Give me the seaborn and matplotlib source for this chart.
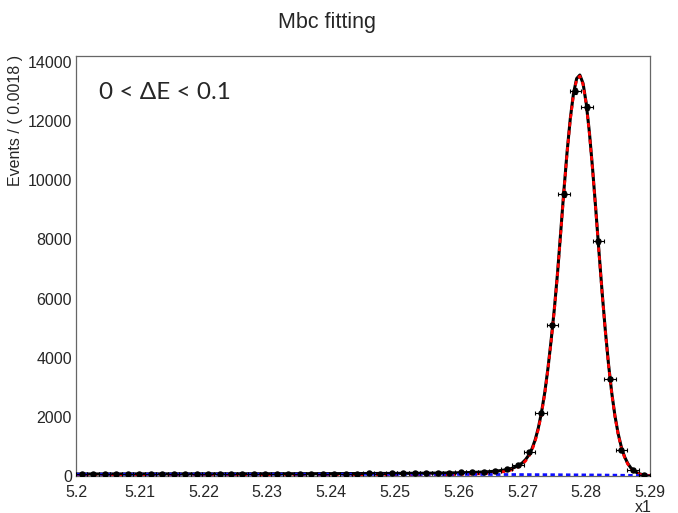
import matplotlib
matplotlib.use("Agg")
import matplotlib.pyplot as plt
from matplotlib.ticker import MultipleLocator
import numpy as np
import seaborn as sns

sns.set_style("white")
plt.rcParams["font.family"] = ["Liberation Sans", "DejaVu Sans"]

# Binned data: 50 bins of width 0.0018 between 5.20 and 5.29
bin_lo = 5.20
bin_width = 0.0018
events = [72, 64, 70, 61, 75, 68, 66, 78, 70, 73,
          69, 74, 67, 79, 72, 70, 77, 74, 81, 76,
          79, 84, 77, 83, 80, 86, 84, 90, 88, 93,
          98, 104, 112, 121, 133, 146, 168, 228, 373, 813,
          2125, 5110, 9525, 13017, 12475, 7932, 3288, 893, 193, 18]

# Fitted curves
curve_x = [5.2000, 5.2100, 5.2200, 5.2300, 5.2400, 5.2450, 5.2500, 5.2550, 5.2575,
           5.2600, 5.2605, 5.2610, 5.2615, 5.2620, 5.2625, 5.2630, 5.2635, 5.2640,
           5.2645, 5.2650, 5.2655, 5.2660, 5.2665, 5.2670, 5.2675, 5.2680, 5.2685,
           5.2690, 5.2695, 5.2700, 5.2705, 5.2710, 5.2715, 5.2720, 5.2725, 5.2730,
           5.2735, 5.2740, 5.2745, 5.2750, 5.2755, 5.2760, 5.2765, 5.2770, 5.2775,
           5.2780, 5.2785, 5.2790, 5.2795, 5.2800, 5.2805, 5.2810, 5.2815, 5.2820,
           5.2825, 5.2830, 5.2835, 5.2840, 5.2845, 5.2850, 5.2855, 5.2860, 5.2865,
           5.2870, 5.2875, 5.2880, 5.2885, 5.2890, 5.2895, 5.2900]
total_fit = [68, 71, 73, 76, 80, 84, 87, 94, 100,
             108, 110, 113, 116, 119, 123, 127, 132, 137,
             143, 150, 158, 168, 181, 195, 214, 238, 268,
             314, 370, 448, 558, 707, 922, 1226, 1636, 2165,
             2824, 3644, 4593, 5643, 6862, 8251, 9650, 10960, 12079,
             12928, 13438, 13557, 13276, 12605, 11614, 10383, 9012, 7582,
             6192, 4910, 3773, 2817, 2042, 1438, 986, 658, 429,
             273, 171, 106, 65, 40, 24, 8]
signal_fit = [8, 10, 12, 15, 20, 24, 29, 37, 44,
              53, 56, 59, 62, 66, 70, 74, 79, 85,
              91, 98, 107, 117, 130, 145, 164, 188, 219,
              265, 322, 400, 510, 660, 875, 1180, 1590, 2120,
              2780, 3600, 4550, 5600, 6820, 8210, 9610, 10920, 12040,
              12890, 13400, 13520, 13240, 12570, 11580, 10350, 8980, 7550,
              6160, 4880, 3745, 2790, 2016, 1413, 962, 635, 406,
              252, 152, 89, 50, 28, 15, 8]

bkg_x = [5.200, 5.210, 5.220, 5.230, 5.240, 5.250, 5.260, 5.265, 5.270,
         5.275, 5.280, 5.2825, 5.285, 5.2865, 5.2875, 5.2885, 5.2895, 5.290]
bkg_fit = [60, 61, 61.5, 61.4, 60.5, 58.4, 54.5, 51.7, 48,
           43, 36.6, 32.3, 26.9, 22.7, 19.4, 15.1, 8.8, 0]

centers = bin_lo + bin_width * (np.arange(len(events)) + 0.5)
counts = np.array(events, dtype=float)

W, H = 678, 513
fig = plt.figure(figsize=(W / 100, H / 100), dpi=100)
ax = fig.add_axes([76 / W, 1 - 476 / H, 574 / W, 420 / H])

sns.lineplot(x=curve_x, y=total_fit, ax=ax, color="black", linewidth=2.2,
             sort=False, estimator=None, zorder=3)
sns.lineplot(x=curve_x, y=signal_fit, ax=ax, color="red", linewidth=2.0,
             sort=False, estimator=None, zorder=4)
ax.lines[-1].set_dashes((1.6, 1.4))
sns.lineplot(x=bkg_x, y=bkg_fit, ax=ax, color="#1010ff", linewidth=2.0,
             sort=False, estimator=None, zorder=4)
ax.lines[-1].set_dashes((1.6, 1.2))

ax.errorbar(centers, counts, xerr=bin_width / 2, yerr=np.sqrt(counts),
            fmt="o", color="black", markersize=3.6, elinewidth=0.8,
            capsize=1.6, capthick=0.8, zorder=5)

ax.set_xlim(5.20, 5.29)
ax.set_ylim(0, 14200)
ax.xaxis.set_minor_locator(MultipleLocator(0.002))
ax.yaxis.set_major_locator(MultipleLocator(2000))
ax.yaxis.set_minor_locator(MultipleLocator(500))
ax.set_xticks(np.round(np.arange(5.20, 5.2901, 0.01), 2))
ax.set_xticklabels(["5.2", "5.21", "5.22", "5.23", "5.24", "5.25",
                    "5.26", "5.27", "5.28", "5.29"])

ax.tick_params(axis="x", which="major", direction="in", length=9, width=0.8,
               color="#777777", labelsize=11.5, pad=6.5, top=False)
ax.tick_params(axis="x", which="minor", direction="in", length=4.5, width=0.8,
               color="#777777", top=False)
ax.tick_params(axis="y", which="major", direction="in", length=12, width=0.8,
               color="#777777", labelsize=11.5, pad=3, right=False)
ax.tick_params(axis="y", which="minor", direction="in", length=6.5, width=0.8,
               color="#777777", right=False)
for sp in ax.spines.values():
    sp.set_color("#666666")
    sp.set_linewidth(0.9)

fig.text(327 / W, 1 - 23 / H, "Mbc fitting", ha="center", va="center",
         fontsize=15.5)
fig.text(16 / W, 1 - 55 / H, "Events / ( 0.0018 )", rotation=90,
         ha="center", va="top", fontsize=11.5)
fig.text(652 / W, 1 - 507 / H, "x1", ha="right", va="center", fontsize=11.5)
ax.text(0.04, 0.912, "0 < \u0394E < 0.1", transform=ax.transAxes,
        ha="left", va="center", fontsize=17.5, family=["Lato", "DejaVu Sans"])

fig.savefig("out.png", dpi=100)
